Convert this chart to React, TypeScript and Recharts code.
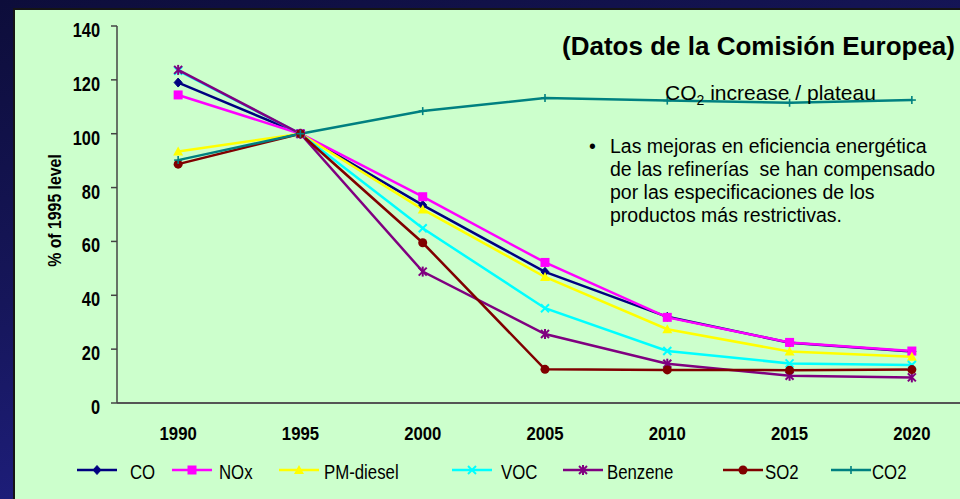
import React from 'react';
import { LineChart, Line, XAxis, YAxis, Legend, Label } from 'recharts';

// ---------------- data ----------------
const years = ['1990', '1995', '2000', '2005', '2010', '2015', '2020'];
const coValues = [119.0, 100, 73.5, 48.7, 32.0, 22.4, 19.1];
const noxValues = [114.4, 100, 76.6, 52.2, 31.8, 22.5, 19.3];
const pmDieselValues = [93.4, 100, 71.9, 46.8, 27.4, 19.1, 17.2];
const vocValues = [123.4, 100, 64.9, 35.2, 19.3, 14.7, 14.1];
const benzeneValues = [123.7, 100, 48.8, 25.6, 14.6, 10.1, 9.5];
const so2Values = [88.7, 100, 59.5, 12.5, 12.3, 12.2, 12.4];
const co2Values = [90.2, 100, 108.4, 113.3, 112.3, 111.5, 112.5];
const yTicks = [0, 20, 40, 60, 80, 100, 120, 140];
const seriesNames = ['CO', 'NOx', 'PM-diesel', 'VOC', 'Benzene', 'SO2', 'CO2'];

const rows = years.map((year, i) => ({
  idx: i,
  year,
  CO: coValues[i],
  NOx: noxValues[i],
  'PM-diesel': pmDieselValues[i],
  VOC: vocValues[i],
  Benzene: benzeneValues[i],
  SO2: so2Values[i],
  CO2: co2Values[i],
}));

// styles per series (same order as seriesNames)
const seriesColors = ['#000080', '#FF00FF', '#FFFF00', '#00FFFF', '#800080', '#800000', '#008080'];
const seriesShapes = ['diamond', 'square', 'triangle', 'x', 'star', 'circle', 'plus'];
const series = seriesNames.map((key, i) => ({ key, color: seriesColors[i], shape: seriesShapes[i] }));

const gridTicks = years.map((_, i) => i - 0.5).concat([years.length - 0.5]);
const labelTicks = years.map((_, i) => i);

const SANS = "'Liberation Sans', Arial, sans-serif";

function Marker({ shape, color, cx, cy }: { shape: string; color: string; cx: number; cy: number }) {
  switch (shape) {
    case 'diamond':
      return <polygon points={`${cx},${cy - 4.5} ${cx + 4},${cy} ${cx},${cy + 4.5} ${cx - 4},${cy}`} fill={color} stroke={color} strokeWidth={1} />;
    case 'square':
      return <rect x={cx - 4.5} y={cy - 4.5} width={9} height={9} fill={color} />;
    case 'triangle':
      return <polygon points={`${cx},${cy - 5} ${cx + 5},${cy + 4} ${cx - 5},${cy + 4}`} fill={color} />;
    case 'x':
      return (
        <g stroke={color} strokeWidth={2}>
          <line x1={cx - 4} y1={cy - 4} x2={cx + 4} y2={cy + 4} />
          <line x1={cx - 4} y1={cy + 4} x2={cx + 4} y2={cy - 4} />
        </g>
      );
    case 'star':
      return (
        <g stroke={color} strokeWidth={2}>
          <line x1={cx - 4} y1={cy - 4} x2={cx + 4} y2={cy + 4} />
          <line x1={cx - 4} y1={cy + 4} x2={cx + 4} y2={cy - 4} />
          <line x1={cx} y1={cy - 5} x2={cx} y2={cy + 5} />
        </g>
      );
    case 'circle':
      return <circle cx={cx} cy={cy} r={4.5} fill={color} />;
    case 'plus':
    default:
      return (
        <g stroke={color} strokeWidth={1.6}>
          <line x1={cx} y1={cy - 4} x2={cx} y2={cy + 4} />
          <line x1={cx - 4} y1={cy} x2={cx + 4} y2={cy} />
        </g>
      );
  }
}

const makeDot = (shape: string, color: string) => (props: any) => {
  const { cx, cy, index } = props;
  if (cx == null || cy == null) return <g key={`${shape}-${index}`} />;
  return (
    <g key={`${shape}-${index}`}>
      <Marker shape={shape} color={color} cx={cx} cy={cy} />
    </g>
  );
};

// condensed text (the reference chart uses a narrow face)
const YTick = (props: any) => {
  const { x, y, payload } = props;
  return (
    <text
      transform={`translate(${x},${y + 11}) scale(0.78,1)`}
      textAnchor="end"
      fontFamily={SANS}
      fontSize={21}
      fontWeight="bold"
      fill="#000"
    >
      {payload.value}
    </text>
  );
};

const XTick = (props: any) => {
  const { x, y, payload } = props;
  return (
    <text
      transform={`translate(${x},${y + 14}) scale(0.88,1)`}
      textAnchor="middle"
      fontFamily={SANS}
      fontSize={19}
      fontWeight="bold"
      fill="#000"
    >
      {years[payload.value] ?? ''}
    </text>
  );
};

const legendIconX = [77, 172, 279, 452, 563, 723, 831];
const legendTextX = [130, 219, 324, 501, 607, 765, 872];

const renderLegend = () => (
  <svg width={960} height={30} style={{ display: 'block' }}>
    {series.map((s, i) => (
      <g key={s.key}>
        <line x1={legendIconX[i]} y1={11} x2={legendIconX[i] + 40} y2={11} stroke={s.color} strokeWidth={2.5} />
        <Marker shape={s.shape} color={s.color} cx={legendIconX[i] + 20} cy={11} />
        <text
          transform={`translate(${legendTextX[i]},20) scale(0.8,1)`}
          fontFamily={SANS}
          fontSize={21}
          fill="#000"
        >
          {s.key}
        </text>
      </g>
    ))}
  </svg>
);

export default function App() {
  return (
    <div
      style={{
        position: 'fixed',
        left: 0,
        top: 0,
        width: 960,
        height: 499,
        overflow: 'hidden',
        background: 'linear-gradient(165deg, #0d0d3a 0%, #16165a 40%, #2626a0 100%)',
      }}
    >
      <div
        style={{
          position: 'absolute',
          left: 13,
          top: 8,
          width: 960,
          height: 499,
          background: '#CCFFCC',
          borderLeft: '2px solid #151515',
          borderTop: '2px solid #151515',
        }}
      />
      <div style={{ position: 'absolute', left: 0, top: 0 }}>
        <LineChart width={1000} height={499} data={rows} margin={{ top: 26, right: 27, left: 0, bottom: 0 }}>
          <XAxis
            xAxisId="grid"
            dataKey="idx"
            type="number"
            domain={[-0.5, years.length - 0.5]}
            allowDataOverflow
            ticks={gridTicks}
            tick={false}
            tickSize={5}
            height={5}
            axisLine={{ stroke: '#555', strokeWidth: 2 }}
            tickLine={{ stroke: '#555', strokeWidth: 1.5 }}
          />
          <XAxis
            xAxisId="labels"
            dataKey="idx"
            type="number"
            domain={[-0.5, years.length - 0.5]}
            allowDataOverflow
            ticks={labelTicks}
            axisLine={false}
            tickLine={false}
            tickSize={0}
            tickMargin={18}
            height={91}
            interval={0}
            tick={<XTick />}
          />
          <YAxis
            type="number"
            domain={[0, 140]}
            ticks={yTicks}
            interval={0}
            width={117}
            tickSize={6}
            tickMargin={11}
            axisLine={{ stroke: '#444', strokeWidth: 1.5 }}
            tickLine={{ stroke: '#444', strokeWidth: 1.5 }}
            tick={<YTick />}
          >
            <Label
              content={(p: any) => {
                const vb = p.viewBox || { x: 0, y: 26, width: 117, height: 377 };
                const cx = vb.x + 55;
                const cy = vb.y + vb.height / 2 - 4;
                return (
                  <text
                    transform={`translate(${cx},${cy}) rotate(-90) scale(0.88,1)`}
                    textAnchor="middle"
                    dominantBaseline="central"
                    fontFamily={SANS}
                    fontSize={18}
                    fontWeight="bold"
                    fill="#000"
                  >
                    % of 1995 level
                  </text>
                );
              }}
            />
          </YAxis>
          <Legend
            verticalAlign="middle"
            align="center"
            layout="horizontal"
            wrapperStyle={{ top: 459, left: 0, width: 960 }}
            content={renderLegend}
          />
          {series.map((s) => (
            <Line
              key={s.key}
              xAxisId="grid"
              type="linear"
              dataKey={s.key}
              name={s.key}
              stroke={s.color}
              strokeWidth={2.5}
              dot={makeDot(s.shape, s.color)}
              activeDot={false}
              isAnimationActive={false}
            />
          ))}
        </LineChart>
      </div>
      <svg width={960} height={499} style={{ position: 'absolute', left: 0, top: 0, pointerEvents: 'none' }}>
        <text x={955} y={55} textAnchor="end" fontFamily={SANS} fontSize={26} fontWeight="bold" fill="#000">
          (Datos de la Comisión Europea)
        </text>
        <text x={665} y={100} fontFamily={SANS} fontSize={21} fill="#000">
          <tspan>CO</tspan>
          <tspan dy={5} fontSize={14}>2</tspan>
          <tspan dy={-5}> increase / plateau</tspan>
        </text>
        <text x={589} y={153} fontFamily={SANS} fontSize={19.5} fill="#000">•</text>
        <text fontFamily={SANS} fontSize={19.5} fill="#000" style={{ whiteSpace: 'pre' }}>
          <tspan x={610} y={153}>Las mejoras en eficiencia energética</tspan>
          <tspan x={610} y={176}>de las refinerías  se han compensado</tspan>
          <tspan x={610} y={199}>por las especificaciones de los</tspan>
          <tspan x={610} y={222}>productos más restrictivas.</tspan>
        </text>
      </svg>
    </div>
  );
}
